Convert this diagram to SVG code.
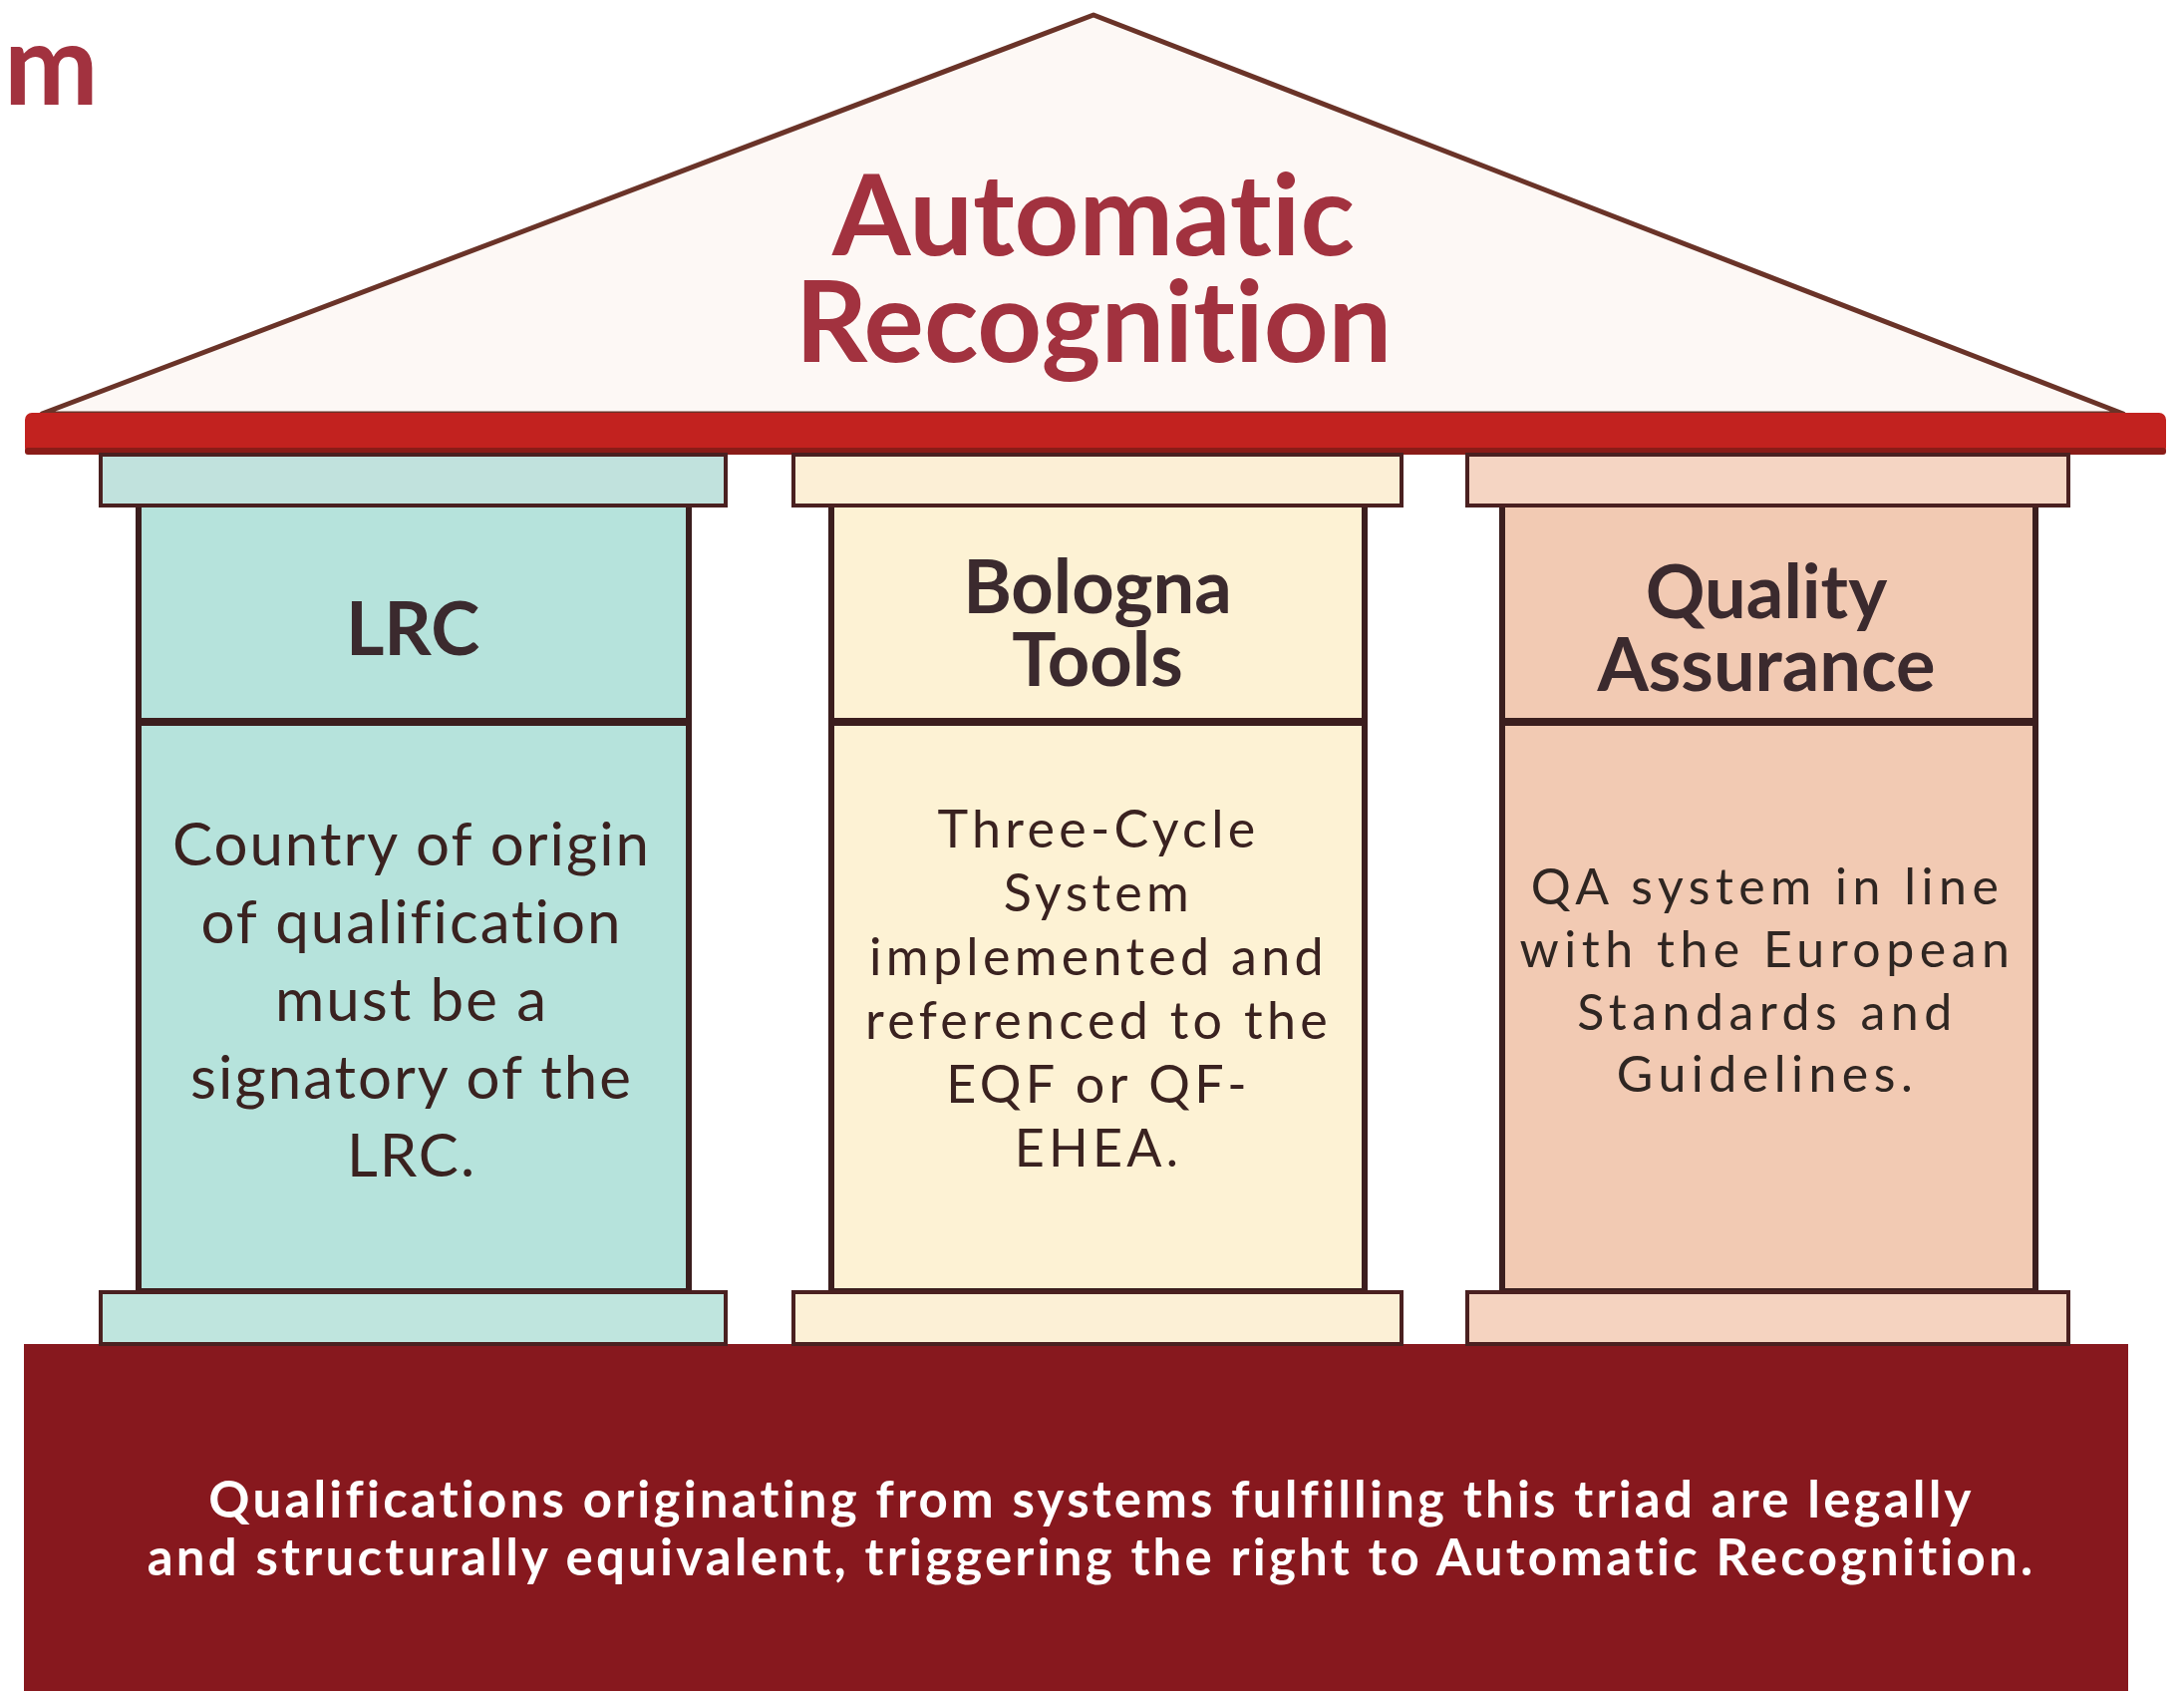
<svg xmlns="http://www.w3.org/2000/svg" width="2191" height="1696" viewBox="0 0 2191 1696">
<style>
  text { font-family: Lato, "Open Sans", "Liberation Sans", sans-serif; text-anchor: middle; font-variant-ligatures: none; font-feature-settings: "liga" 0, "clig" 0; }
  .title { font-size: 113px; font-weight: 700; fill: #a2323f; }
  .mark { font-size: 113px; font-weight: 700; fill: #a2323f; text-anchor: start; }
  .head { font-size: 74px; font-weight: 700; fill: #3b2a2e; }
  .body1 { font-size: 60px; fill: #3a2220; letter-spacing: 2px; }
  .body2 { font-size: 52px; fill: #3a2220; letter-spacing: 4.3px; }
  .body3 { font-size: 50px; fill: #2f2622; letter-spacing: 5.5px; }
  .foot { font-size: 51px; font-weight: 700; fill: #ffffff; letter-spacing: 3.2px; }
  .shaft { stroke: #3b1e1e; stroke-width: 6; }
  .cap { stroke: #4a2020; stroke-width: 4; }
  .divider { stroke: #3b1e1e; stroke-width: 8; }
</style>
<rect x="0" y="0" width="2191" height="1696" fill="#ffffff"/>

<text class="mark" x="4" y="105">m</text>

<g id="roof">
  <polygon points="42,415 1097,15 2130,415" fill="#fdf8f5" stroke="#6a3328" stroke-width="5" stroke-linejoin="round"/>
  <rect x="25" y="414" width="2148" height="42" rx="7" fill="#c2221f"/>
  <rect x="25" y="449" width="2148" height="7" rx="3" fill="#8a1c18"/>
  <text class="title" x="1097" y="256">Automatic</text>
  <text class="title" x="1097" y="363">Recognition</text>
</g>

<g id="plinth">
  <rect x="24" y="1348" width="2111" height="348" fill="#87181e"/>
  <text class="foot" x="1095" y="1522">Qualifications originating from systems fulfilling this triad are legally</text>
  <text class="foot" x="1095" y="1580">and structurally equivalent, triggering the right to Automatic Recognition.</text>
</g>

<g id="pillar-lrc">
  <rect class="shaft" x="139" y="506" width="552" height="789" fill="#b6e3dc"/>
  <rect class="cap" x="101" y="456" width="627" height="51" fill="#c1e2dd"/>
  <line class="divider" x1="139" y1="724" x2="691" y2="724"/>
  <rect class="cap" x="101" y="1296" width="627" height="52" fill="#bfe5de"/>
  <text class="head" x="414" y="657">LRC</text>
  <text class="body1" x="413" y="868">Country of origin</text>
  <text class="body1" x="413" y="946">of qualification</text>
  <text class="body1" x="413" y="1024">must be a</text>
  <text class="body1" x="413" y="1102">signatory of the</text>
  <text class="body1" x="413" y="1180">LRC.</text>
</g>

<g id="pillar-bologna">
  <rect class="shaft" x="834" y="506" width="535" height="789" fill="#fdf2d4"/>
  <rect class="cap" x="796" y="456" width="610" height="51" fill="#fcefd6"/>
  <line class="divider" x1="834" y1="724" x2="1369" y2="724"/>
  <rect class="cap" x="796" y="1296" width="610" height="52" fill="#fcf0d6"/>
  <text class="head" x="1101" y="615">Bologna</text>
  <text class="head" x="1101" y="688">Tools</text>
  <text class="body2" x="1102" y="850">Three-Cycle</text>
  <text class="body2" x="1102" y="914">System</text>
  <text class="body2" x="1102" y="978">implemented and</text>
  <text class="body2" x="1102" y="1042">referenced to the</text>
  <text class="body2" x="1102" y="1106">EQF or QF-</text>
  <text class="body2" x="1102" y="1170">EHEA.</text>
</g>

<g id="pillar-qa">
  <rect class="shaft" x="1507" y="506" width="535" height="789" fill="#f2cab3"/>
  <rect class="cap" x="1472" y="456" width="603" height="51" fill="#f5d5c3"/>
  <line class="divider" x1="1507" y1="724" x2="2042" y2="724"/>
  <rect class="cap" x="1472" y="1296" width="603" height="52" fill="#f5d3c0"/>
  <text class="head" x="1772" y="620">Quality</text>
  <text class="head" x="1772" y="693">Assurance</text>
  <text class="body3" x="1773" y="907">QA system in line</text>
  <text class="body3" x="1773" y="970">with the European</text>
  <text class="body3" x="1773" y="1033">Standards and</text>
  <text class="body3" x="1773" y="1095">Guidelines.</text>
</g>

<g id="connectors"/>
</svg>
